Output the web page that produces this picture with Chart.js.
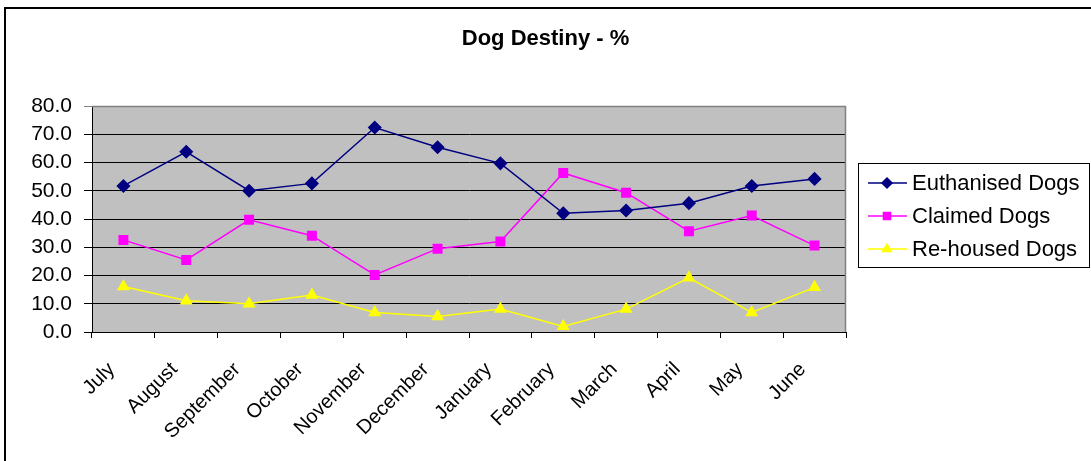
<!DOCTYPE html>
<html>
<head>
<meta charset="utf-8">
<script src="https://cdn.jsdelivr.net/npm/chart.js@4"></script>
<style>
  html, body { margin: 0; padding: 0; background: #fff; }
  #wrap { width: 1091px; height: 461px; }
</style>
</head>
<body>
<div id="wrap"><canvas id="dogChart" width="1091" height="461"></canvas></div>
<script>
// Dog Destiny - % (monthly share of dogs by outcome)
const months = ['July', 'August', 'September', 'October', 'November', 'December',
                'January', 'February', 'March', 'April', 'May', 'June'];
const euthanised = [51.7, 63.8, 50.0, 52.6, 72.4, 65.4, 59.7, 42.0, 43.0, 45.6, 51.7, 54.2];
const claimed    = [32.6, 25.5, 39.7, 34.1, 20.2, 29.5, 32.0, 56.3, 49.3, 35.7, 41.2, 30.6];
const rehoused   = [16.1, 11.1, 10.0, 13.1, 6.9, 5.5, 8.1, 2.0, 8.1, 19.2, 6.9, 15.8];
const yTicks = [0, 10, 20, 30, 40, 50, 60, 70, 80];

Chart.defaults.font.family = '"Liberation Sans", Arial, sans-serif';
Chart.defaults.color = '#000';

// white page, outer frame, grey plot background
const framePlugin = {
    id: 'frame',
    beforeDraw(chart) {
        const ctx = chart.ctx;
        const a = chart.chartArea;
        ctx.save();
        ctx.fillStyle = '#fff';
        ctx.fillRect(0, 0, chart.width, chart.height);
        ctx.strokeStyle = '#000';
        ctx.lineWidth = 2;
        ctx.strokeRect(5, 8, chart.width + 20, chart.height + 20);
        ctx.fillStyle = '#c0c0c0';
        ctx.fillRect(a.left, a.top, a.right - a.left, a.bottom - a.top);
        ctx.restore();
    },
    afterDatasetsDraw(chart) {
        const ctx = chart.ctx;
        const a = chart.chartArea;
        ctx.save();
        ctx.strokeStyle = '#808080';
        ctx.lineWidth = 1.5;
        ctx.beginPath();
        ctx.moveTo(a.left, a.top + 0.5);
        ctx.lineTo(a.right - 0.5, a.top + 0.5);
        ctx.lineTo(a.right - 0.5, a.bottom);
        ctx.stroke();
        ctx.restore();
    }
};

// boxed legend on the right
const boxLegend = {
    id: 'boxLegend',
    afterDraw(chart) {
        const ctx = chart.ctx;
        const x = 858, y = 163, w = 231, h = 104;
        ctx.save();
        ctx.fillStyle = '#fff';
        ctx.fillRect(x, y, w, h);
        ctx.strokeStyle = '#000';
        ctx.lineWidth = 1;
        ctx.strokeRect(x + 0.5, y + 0.5, w, h);
        chart.data.datasets.forEach((ds, i) => {
            const cy = y + 20 + i * 33;
            ctx.strokeStyle = ds.borderColor;
            ctx.lineWidth = 1.5;
            ctx.beginPath();
            ctx.moveTo(868, cy);
            ctx.lineTo(907, cy);
            ctx.stroke();
            ctx.fillStyle = ds.backgroundColor;
            Chart.helpers.drawPoint(ctx, {
                pointStyle: ds.pointStyle, rotation: 0, radius: ds.pointRadius - 1, borderWidth: 1
            }, 887, cy);
            ctx.fillStyle = '#000';
            ctx.font = '22px "Liberation Sans", Arial, sans-serif';
            ctx.textBaseline = 'middle';
            ctx.fillText(ds.label, 912, cy + 1);
        });
        ctx.restore();
    }
};

new Chart(document.getElementById('dogChart'), {
    type: 'line',
    data: {
        labels: months,
        datasets: [{
            label: 'Euthanised Dogs',
            data: euthanised,
            borderColor: '#000080',
            backgroundColor: '#000080',
            pointStyle: 'rectRot',
            pointRadius: 6,
            borderWidth: 1.5
        }, {
            label: 'Claimed Dogs',
            data: claimed,
            borderColor: '#ff00ff',
            backgroundColor: '#ff00ff',
            pointStyle: 'rect',
            pointRadius: 6,
            borderWidth: 1.5
        }, {
            label: 'Re-housed Dogs',
            data: rehoused,
            borderColor: '#ffff00',
            backgroundColor: '#ffff00',
            pointStyle: 'triangle',
            pointRadius: 6,
            borderWidth: 1.5
        }]
    },
    options: {
        responsive: false,
        animation: false,
        layout: { padding: 0 },
        elements: { line: { tension: 0 }, point: { borderWidth: 1 } },
        plugins: {
            legend: { display: false },
            tooltip: { enabled: false },
            title: {
                display: true,
                text: 'Dog Destiny - %',
                font: { size: 22, weight: 'bold' },
                color: '#000',
                padding: { top: 26, bottom: 53.6 }
            }
        },
        scales: {
            x: {
                offset: true,
                grid: { offset: true, drawOnChartArea: false, color: '#000', tickLength: 6 },
                border: { color: '#000', width: 1 },
                ticks: {
                    font: { size: 20 },
                    maxRotation: 45,
                    minRotation: 45,
                    padding: 8,
                    autoSkip: false,
                    callback: (v, i) => months[i] + '   '
                },
                afterFit(s) { s.height = 129; }
            },
            y: {
                min: 0,
                max: 80,
                afterBuildTicks(s) { s.ticks = yTicks.map(v => ({ value: v })); },
                grid: {
                    color: c => c.tick && c.tick.value === 80 ? '#808080' : '#000',
                    tickLength: 8
                },
                border: { color: '#000', width: 1 },
                ticks: { font: { size: 21 }, padding: 12, autoSkip: false, callback: v => v.toFixed(1) },
                afterFit(s) { s.width = 92; }
            },
            spacer: {
                position: 'right',
                display: true,
                grid: { display: false },
                border: { display: false },
                ticks: { display: false },
                afterFit(s) { s.width = 245; }
            }
        }
    },
    plugins: [framePlugin, boxLegend]
});
</script>
</body>
</html>
